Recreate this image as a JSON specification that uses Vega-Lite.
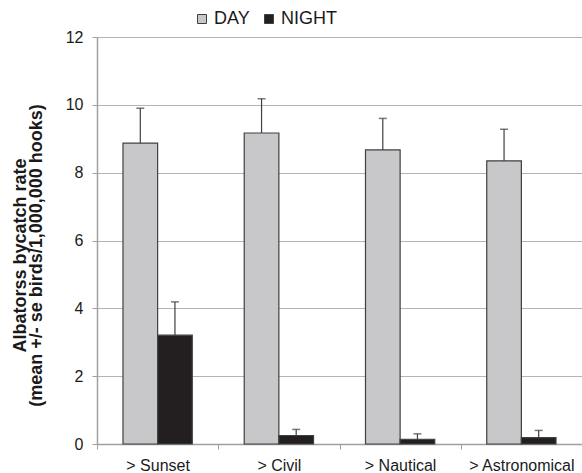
{
  "$schema": "https://vega.github.io/schema/vega-lite/v6.json",
  "autosize": {"type": "none"},
  "padding": {"left": 97, "top": 37, "right": 0, "bottom": 29},
  "width": 485,
  "height": 407,
  "config": {
    "font": "Liberation Sans",
    "view": {"stroke": null},
    "axis": {"labelFont": "Liberation Sans", "titleFont": "Liberation Sans"}
  },
  "data": {
    "values": [
      {"twilight": "> Sunset", "period": "DAY", "mean": 8.87, "upper": 9.9},
      {"twilight": "> Sunset", "period": "NIGHT", "mean": 3.21, "upper": 4.19},
      {"twilight": "> Civil", "period": "DAY", "mean": 9.17, "upper": 10.18},
      {"twilight": "> Civil", "period": "NIGHT", "mean": 0.25, "upper": 0.43},
      {"twilight": "> Nautical", "period": "DAY", "mean": 8.67, "upper": 9.6},
      {"twilight": "> Nautical", "period": "NIGHT", "mean": 0.14, "upper": 0.3},
      {"twilight": "> Astronomical", "period": "DAY", "mean": 8.35, "upper": 9.28},
      {"twilight": "> Astronomical", "period": "NIGHT", "mean": 0.19, "upper": 0.4}
    ]
  },
  "encoding": {
    "x": {
      "field": "twilight",
      "type": "nominal",
      "sort": ["> Sunset", "> Civil", "> Nautical", "> Astronomical"],
      "scale": {"paddingInner": 0, "paddingOuter": 0},
      "axis": {
        "title": null,
        "labelAngle": 0,
        "labelFontSize": 16,
        "labelColor": "#1a1a1a",
        "labelPadding": 8,
        "tickBand": "extent",
        "tickSize": 5,
        "tickColor": "#a0a0a0",
        "domainColor": "#a0a0a0",
        "domainWidth": 1.5,
        "grid": false
      }
    },
    "xOffset": {
      "field": "period",
      "type": "nominal",
      "sort": ["DAY", "NIGHT"],
      "scale": {"paddingOuter": 0.75, "paddingInner": 0}
    }
  },
  "layer": [
    {
      "mark": {"type": "bar", "stroke": "#404040", "strokeWidth": 1.2},
      "encoding": {
        "y": {
          "field": "mean",
          "type": "quantitative",
          "scale": {"domain": [0, 12], "nice": false},
          "axis": {
            "values": [0, 2, 4, 6, 8, 10, 12],
            "title": ["Albatorss bycatch rate", "(mean +/- se birds/1,000,000 hooks)"],
            "titleFontSize": 18,
            "titleFontWeight": "bold",
            "titleColor": "#1a1a1a",
            "titleLineHeight": 16,
            "titlePadding": 20,
            "titleY": 218,
            "titleLimit": 1000,
            "labelFontSize": 16,
            "labelColor": "#1a1a1a",
            "labelPadding": 9,
            "tickSize": 5,
            "tickColor": "#a0a0a0",
            "domainColor": "#a0a0a0",
            "domainWidth": 1.5,
            "gridColor": "#b4b4b4",
            "gridWidth": 1.2
          }
        },
        "color": {
          "field": "period",
          "type": "nominal",
          "scale": {"domain": ["DAY", "NIGHT"], "range": ["#c8c8ca", "#231f20"]},
          "legend": {
            "title": null,
            "orient": "none",
            "direction": "horizontal",
            "legendX": 96,
            "legendY": -27,
            "symbolType": "square",
            "symbolSize": 81,
            "symbolStrokeColor": "#404040",
            "symbolStrokeWidth": 1,
            "labelFontSize": 18,
            "labelColor": "#1a1a1a",
            "labelOffset": 3,
            "columnPadding": 10
          }
        }
      }
    },
    {
      "mark": {"type": "rule", "color": "#404040", "strokeWidth": 1.2},
      "encoding": {
        "y": {"field": "mean", "type": "quantitative"},
        "y2": {"field": "upper"}
      }
    },
    {
      "mark": {"type": "tick", "color": "#404040", "size": 8, "thickness": 1.5},
      "encoding": {
        "y": {"field": "upper", "type": "quantitative"}
      }
    }
  ]
}
